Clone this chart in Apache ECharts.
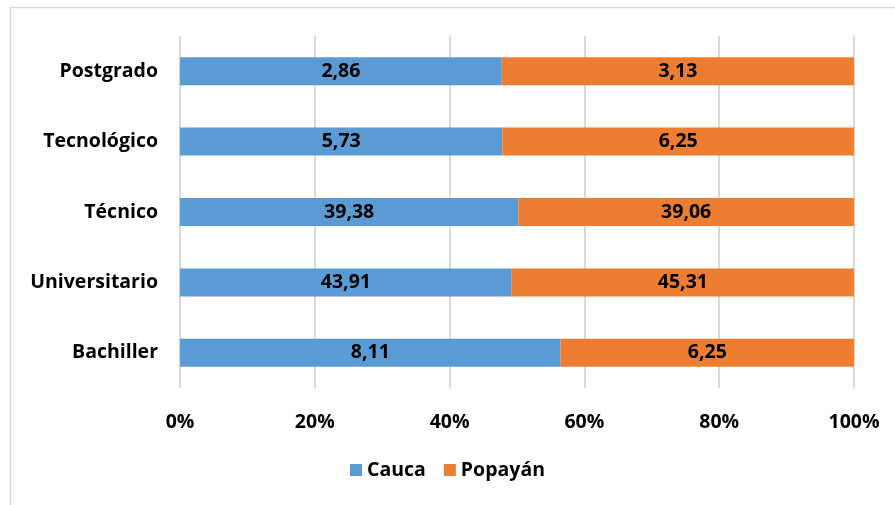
<!DOCTYPE html>
<html>
<head>
<meta charset="utf-8">
<script src="https://cdn.jsdelivr.net/npm/echarts@6/dist/echarts.min.js"></script>
<style>
  html, body { margin: 0; padding: 0; background: #fff; }
  #main { width: 895px; height: 505px; }
</style>
</head>
<body>
<div id="main"></div>
<script>
// niveles educativos, de abajo hacia arriba
var categorias = ['Bachiller', 'Universitario', 'Técnico', 'Tecnológico', 'Postgrado'];
var cauca = [8.11, 43.91, 39.38, 5.73, 2.86];
var popayan = [6.25, 45.31, 39.06, 6.25, 3.13];
var ticks = ['0%', '20%', '40%', '60%', '80%', '100%'];

// 100% apilado: cada fila se normaliza a su total
function pct(arr, i) {
    return arr[i] / (cauca[i] + popayan[i]) * 100;
}
function coma(v) {
    return v.toFixed(2).replace('.', ',');
}
var caucaPct = cauca.map(function (v, i) { return pct(cauca, i); });
var popayanPct = popayan.map(function (v, i) { return pct(popayan, i); });

var fuente = 'Open Sans';
var tam = 19.5;
var chart = echarts.init(document.getElementById('main'));
var option = {
    animation: false,
    color: ['#5B9BD5', '#ED7D31'],
    graphic: [{
        type: 'rect',
        shape: { x: 10.5, y: 7.5, width: 900, height: 520 },
        style: { fill: 'none', stroke: '#d9d9d9', lineWidth: 1.5 },
        silent: true
    }],
    grid: { left: 180, right: 41, top: 36, bottom: 117 },
    legend: {
        bottom: 20,
        left: 'center',
        itemWidth: 12,
        itemHeight: 12,
        itemGap: 18,
        icon: 'rect',
        textStyle: { fontFamily: fuente, fontWeight: 'bold', fontSize: tam, color: '#000' },
        data: ['Cauca', 'Popayán']
    },
    xAxis: {
        type: 'value',
        min: 0,
        max: 100,
        interval: 20,
        axisLine: { show: false },
        axisTick: { show: false },
        splitLine: { lineStyle: { color: '#d9d9d9', width: 2 } },
        axisLabel: {
            margin: 24,
            fontFamily: fuente, fontWeight: 'bold', fontSize: tam, color: '#000',
            formatter: function (v) { return ticks[v / 20]; }
        }
    },
    yAxis: {
        type: 'category',
        data: categorias,
        axisLine: { show: false },
        axisTick: { show: false },
        axisLabel: {
            margin: 22,
            fontFamily: fuente, fontWeight: 'bold', fontSize: tam, color: '#000'
        }
    },
    series: [
        {
            name: 'Cauca',
            type: 'bar',
            stack: 'total',
            barWidth: 28,
            data: caucaPct,
            label: {
                show: true,
                position: 'inside',
                fontFamily: fuente, fontWeight: 'bold', fontSize: tam, color: '#000',
                formatter: function (p) { return coma(cauca[p.dataIndex]); }
            }
        },
        {
            name: 'Popayán',
            type: 'bar',
            stack: 'total',
            barWidth: 28,
            data: popayanPct,
            label: {
                show: true,
                position: 'inside',
                fontFamily: fuente, fontWeight: 'bold', fontSize: tam, color: '#000',
                formatter: function (p) { return coma(popayan[p.dataIndex]); }
            }
        }
    ]
};
chart.setOption(option);
</script>
</body>
</html>
